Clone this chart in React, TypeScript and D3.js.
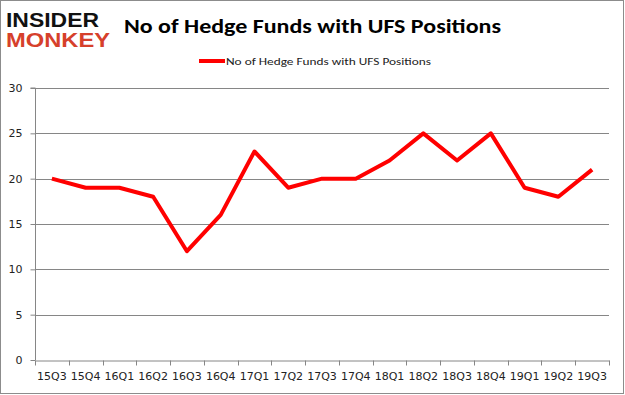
import React, {useRef, useEffect} from 'react';
import * as d3 from 'd3';

const quarters = ['15Q3', '15Q4', '16Q1', '16Q2', '16Q3', '16Q4', '17Q1', '17Q2', '17Q3', '17Q4', '18Q1', '18Q2', '18Q3', '18Q4', '19Q1', '19Q2', '19Q3'];
const funds = [20, 19, 19, 18, 12, 16, 23, 19, 20, 20, 22, 25, 22, 25, 19, 18, 21];
const yTicks = [0, 5, 10, 15, 20, 25, 30];
const seriesName = 'No of Hedge Funds with UFS Positions';

const App = () => {
	const svgRef = useRef(null);

	useEffect(() => {
		const width = 625;
		const height = 395;
		const left = 35, right = 609, top = 88, bottom = 360;
		const font = 'Carlito, "Open Sans", "Liberation Sans", sans-serif';
		const axisFont = '"DejaVu Sans", Verdana, sans-serif';

		const svg = d3.select(svgRef.current)
			.attr('width', width)
			.attr('height', height)
			.style('position', 'absolute')
			.style('left', '0px')
			.style('top', '0px')
			.style('background', '#fff');
		svg.selectAll('*').remove();

		// outer frame
		svg.append('rect')
			.attr('x', 0.5).attr('y', 0.5)
			.attr('width', width - 2).attr('height', height - 2)
			.attr('fill', 'none').attr('stroke', '#8c8c8c');

		// logo
		svg.append('text').attr('x', 6).attr('y', 27)
			.attr('font-family', '"Liberation Sans", sans-serif').attr('font-weight', 'bold')
			.attr('font-size', 21).attr('textLength', 93).attr('lengthAdjust', 'spacingAndGlyphs')
			.attr('fill', '#111').text('INSIDER');
		svg.append('text').attr('x', 6).attr('y', 47)
			.attr('font-family', '"Liberation Sans", sans-serif').attr('font-weight', 'bold')
			.attr('font-size', 21).attr('textLength', 104).attr('lengthAdjust', 'spacingAndGlyphs')
			.attr('fill', '#d6402b').text('MONKEY');

		// title
		svg.append('text').attr('x', 124).attr('y', 33)
			.attr('font-family', font).attr('font-weight', 'bold').attr('font-size', 20)
			.attr('textLength', 377).attr('lengthAdjust', 'spacingAndGlyphs')
			.attr('fill', '#000').text(seriesName);

		// legend
		svg.append('line').attr('x1', 199).attr('x2', 225).attr('y1', 61).attr('y2', 61)
			.attr('stroke', '#ff0000').attr('stroke-width', 4);
		svg.append('text').attr('x', 226).attr('y', 65)
			.attr('font-family', font).attr('font-size', 11)
			.attr('textLength', 205).attr('lengthAdjust', 'spacingAndGlyphs')
			.attr('fill', '#222').text(seriesName);

		// scales
		const xScale = d3.scaleBand().domain(quarters).range([left, right]);
		const yScale = d3.scaleLinear().domain([0, 30]).range([bottom, top]);

		// gridlines
		svg.append('g').selectAll('line').data(yTicks.filter(t => t > 0)).join('line')
			.attr('x1', left).attr('x2', right)
			.attr('y1', d => Math.round(yScale(d)) + 0.5).attr('y2', d => Math.round(yScale(d)) + 0.5)
			.attr('stroke', '#868686');

		// y axis
		const yAxis = d3.axisLeft(yScale).tickValues(yTicks).tickSize(5).tickPadding(8);
		const gy = svg.append('g').attr('transform', `translate(${left + 0.5},0)`).call(yAxis);
		gy.select('.domain').attr('stroke', '#868686').attr('d', `M-5,${top}H0V${bottom}`);
		gy.selectAll('.tick line').attr('stroke', '#868686');
		gy.selectAll('.tick text').attr('font-family', axisFont).attr('font-size', 11).attr('fill', '#222');

		// x axis
		const xAxis = d3.axisBottom(xScale).tickSize(0).tickPadding(12);
		const gx = svg.append('g').attr('transform', `translate(0,${bottom + 0.5})`).call(xAxis);
		gx.select('.domain').attr('stroke', '#868686');
		gx.selectAll('.tick text').attr('font-family', axisFont).attr('font-size', 11).attr('fill', '#222');
		gx.append('g').selectAll('line').data(d3.range(quarters.length + 1)).join('line')
			.attr('x1', i => Math.round(left + i * xScale.step()) + 0.5)
			.attr('x2', i => Math.round(left + i * xScale.step()) + 0.5)
			.attr('y1', 0).attr('y2', 5)
			.attr('stroke', '#868686');

		// line
		const line = d3.line()
			.x((d, i) => xScale(quarters[i]) + xScale.bandwidth() / 2)
			.y(d => yScale(d));
		svg.append('path').datum(funds)
			.attr('d', line)
			.attr('fill', 'none')
			.attr('stroke', '#ff0000')
			.attr('stroke-width', 4)
			.attr('stroke-linejoin', 'round');
	}, []);

	return (
		<svg ref={svgRef}></svg>
	);
};

export default App;
